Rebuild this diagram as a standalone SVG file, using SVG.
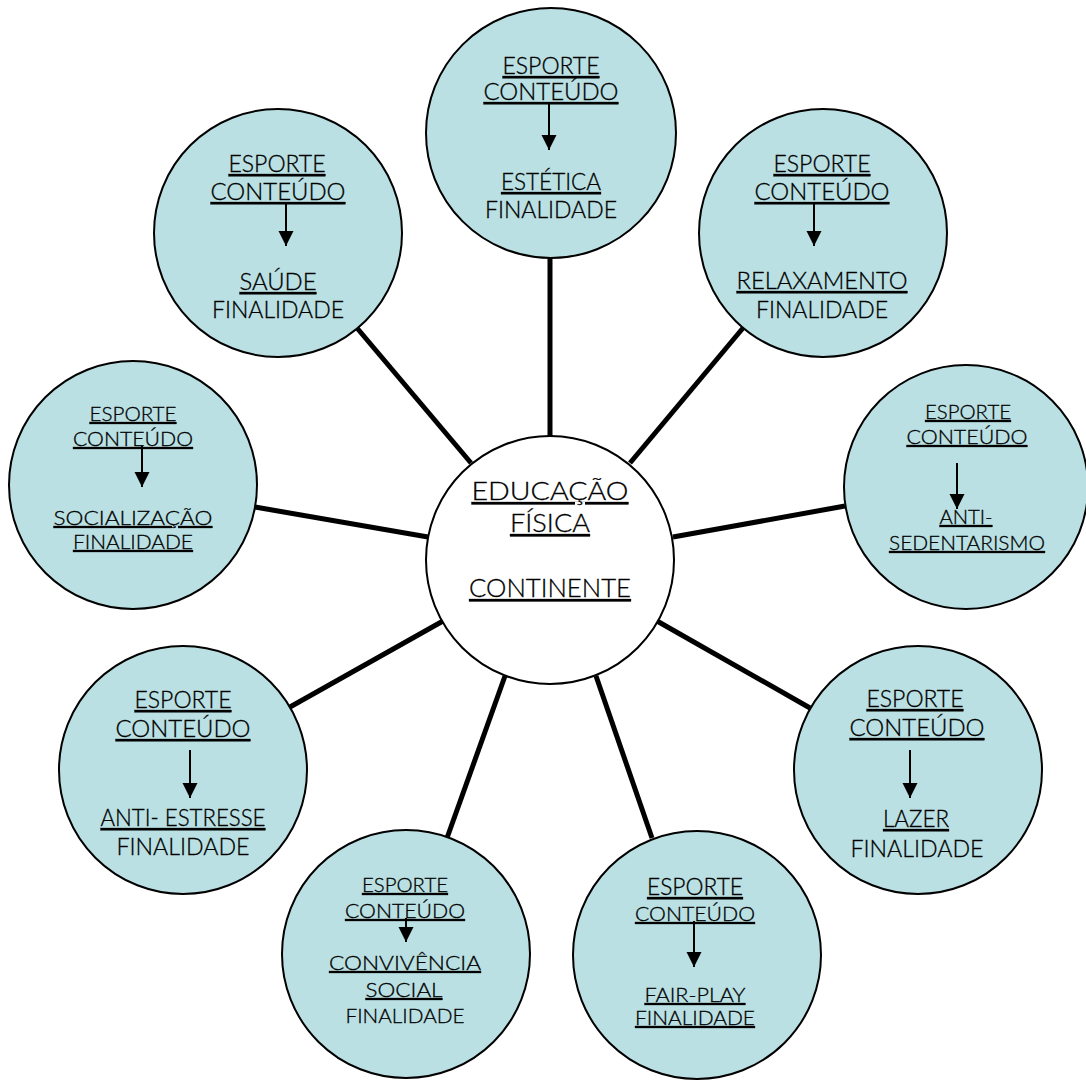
<svg xmlns="http://www.w3.org/2000/svg" width="1086" height="1080" viewBox="0 0 1086 1080">
<style>
.bg{fill:#ffffff}
.node{fill:#bae0e3;stroke:#000;stroke-width:2}
.center{fill:#ffffff;stroke:#000;stroke-width:2}
.conn{stroke:#000;stroke-width:5;stroke-linecap:butt;fill:none}
.arr{stroke:#000;stroke-width:2;fill:none}
text{font-family:Lato,"Liberation Sans",sans-serif;font-weight:300;fill:#000;stroke:#000;stroke-width:0.3;text-anchor:middle}
.L{font-size:23px}
.S{font-size:20px}
.C{font-size:25px}
.u{text-decoration:underline}
</style>
<defs>
<marker id="ah" markerUnits="userSpaceOnUse" markerWidth="16" markerHeight="16" refX="15" refY="8" orient="auto">
<path d="M0,0.5 L15,8 L0,15.5 z" fill="#000"/>
</marker>
</defs>
<rect class="bg" x="0" y="0" width="1086" height="1080"/>
<g id="connectors">
<line class="conn" x1="550" y1="256" x2="550" y2="437"/>
<line class="conn" x1="357" y1="328" x2="471" y2="463"/>
<line class="conn" x1="743" y1="328" x2="630" y2="463"/>
<line class="conn" x1="255" y1="507" x2="428" y2="537"/>
<line class="conn" x1="845" y1="506" x2="673" y2="537"/>
<line class="conn" x1="810" y1="708" x2="657" y2="621"/>
<line class="conn" x1="652" y1="838" x2="596" y2="676"/>
<line class="conn" x1="447" y1="838" x2="505" y2="676"/>
<line class="conn" x1="290" y1="707" x2="443" y2="621"/>
</g>
<g id="node-center">
<circle class="center" cx="550" cy="560" r="124"/>
<text class="C u" x="550" y="500" textLength="157" lengthAdjust="spacingAndGlyphs">EDUCAÇÃO</text>
<text class="C u" x="550" y="532" textLength="80" lengthAdjust="spacingAndGlyphs">FÍSICA</text>
<text class="C u" x="550" y="597" textLength="162" lengthAdjust="spacingAndGlyphs">CONTINENTE</text>
</g>
<g id="node-estetica">
<circle class="node" cx="551" cy="133" r="125"/>
<text class="L u" x="551" y="74" textLength="97" lengthAdjust="spacingAndGlyphs">ESPORTE</text>
<text class="L u" x="551" y="100" textLength="135" lengthAdjust="spacingAndGlyphs">CONTEÚDO</text>
<line class="arr" x1="549" y1="103" x2="549" y2="150" marker-end="url(#ah)"/>
<text class="L u" x="551" y="190" textLength="100" lengthAdjust="spacingAndGlyphs">ESTÉTICA</text>
<text class="L" x="551" y="218" textLength="132" lengthAdjust="spacingAndGlyphs">FINALIDADE</text>
</g>
<g id="node-saude">
<circle class="node" cx="278" cy="233" r="124"/>
<text class="L u" x="277" y="172" textLength="97" lengthAdjust="spacingAndGlyphs">ESPORTE</text>
<text class="L u" x="278" y="200" textLength="135" lengthAdjust="spacingAndGlyphs">CONTEÚDO</text>
<line class="arr" x1="286" y1="203" x2="286" y2="246" marker-end="url(#ah)"/>
<text class="L u" x="278" y="290" textLength="77" lengthAdjust="spacingAndGlyphs">SAÚDE</text>
<text class="L" x="278" y="318" textLength="132" lengthAdjust="spacingAndGlyphs">FINALIDADE</text>
</g>
<g id="node-relaxamento">
<circle class="node" cx="823" cy="233" r="124"/>
<text class="L u" x="822" y="172" textLength="97" lengthAdjust="spacingAndGlyphs">ESPORTE</text>
<text class="L u" x="822" y="200" textLength="135" lengthAdjust="spacingAndGlyphs">CONTEÚDO</text>
<line class="arr" x1="814" y1="203" x2="814" y2="246" marker-end="url(#ah)"/>
<text class="L u" x="822" y="289" textLength="171" lengthAdjust="spacingAndGlyphs">RELAXAMENTO</text>
<text class="L" x="822" y="318" textLength="132" lengthAdjust="spacingAndGlyphs">FINALIDADE</text>
</g>
<g id="node-socializacao">
<circle class="node" cx="133" cy="485" r="124"/>
<text class="S u" x="133" y="421" textLength="87" lengthAdjust="spacingAndGlyphs">ESPORTE</text>
<text class="S u" x="133" y="446" textLength="120" lengthAdjust="spacingAndGlyphs">CONTEÚDO</text>
<line class="arr" x1="142" y1="446" x2="142" y2="487" marker-end="url(#ah)"/>
<text class="S u" x="133" y="525" textLength="159" lengthAdjust="spacingAndGlyphs">SOCIALIZAÇÃO</text>
<text class="S u" x="133" y="549" textLength="120" lengthAdjust="spacingAndGlyphs">FINALIDADE</text>
</g>
<g id="node-antisedentarismo">
<circle class="node" cx="966" cy="487" r="122"/>
<text class="S u" x="968" y="419" textLength="86" lengthAdjust="spacingAndGlyphs">ESPORTE</text>
<text class="S u" x="967" y="444" textLength="121" lengthAdjust="spacingAndGlyphs">CONTEÚDO</text>
<line class="arr" x1="957" y1="463" x2="957" y2="509" marker-end="url(#ah)"/>
<text class="S u" x="966" y="524" textLength="53" lengthAdjust="spacingAndGlyphs">ANTI-</text>
<text class="S u" x="967" y="550" textLength="156" lengthAdjust="spacingAndGlyphs">SEDENTARISMO</text>
</g>
<g id="node-lazer">
<circle class="node" cx="918" cy="770" r="124"/>
<text class="L u" x="915" y="707" textLength="97" lengthAdjust="spacingAndGlyphs">ESPORTE</text>
<text class="L u" x="917" y="736" textLength="135" lengthAdjust="spacingAndGlyphs">CONTEÚDO</text>
<line class="arr" x1="910" y1="750" x2="910" y2="798" marker-end="url(#ah)"/>
<text class="L u" x="916" y="827" textLength="66" lengthAdjust="spacingAndGlyphs">LAZER</text>
<text class="L" x="917" y="857" textLength="133" lengthAdjust="spacingAndGlyphs">FINALIDADE</text>
</g>
<g id="node-fairplay">
<circle class="node" cx="697" cy="955" r="124"/>
<text class="L u" x="695" y="895" textLength="96" lengthAdjust="spacingAndGlyphs">ESPORTE</text>
<text class="S u" x="695" y="921" textLength="120" lengthAdjust="spacingAndGlyphs">CONTEÚDO</text>
<line class="arr" x1="694" y1="921" x2="694" y2="967" marker-end="url(#ah)"/>
<text class="S u" x="695" y="1002" textLength="101" lengthAdjust="spacingAndGlyphs">FAIR-PLAY</text>
<text class="S u" x="695" y="1025" textLength="120" lengthAdjust="spacingAndGlyphs">FINALIDADE</text>
</g>
<g id="node-convivencia">
<circle class="node" cx="406" cy="954" r="124"/>
<text class="S u" x="405" y="892" textLength="86" lengthAdjust="spacingAndGlyphs">ESPORTE</text>
<text class="S u" x="405" y="918" textLength="120" lengthAdjust="spacingAndGlyphs">CONTEÚDO</text>
<line class="arr" x1="406" y1="918" x2="406" y2="942" marker-end="url(#ah)"/>
<text class="S u" x="405" y="970" textLength="152" lengthAdjust="spacingAndGlyphs">CONVIVÊNCIA</text>
<text class="S u" x="404" y="997" textLength="77" lengthAdjust="spacingAndGlyphs">SOCIAL</text>
<text class="S" x="405" y="1023" textLength="119" lengthAdjust="spacingAndGlyphs">FINALIDADE</text>
</g>
<g id="node-antiestresse">
<circle class="node" cx="183" cy="770" r="124"/>
<text class="L u" x="183" y="708" textLength="97" lengthAdjust="spacingAndGlyphs">ESPORTE</text>
<text class="L u" x="183" y="737" textLength="135" lengthAdjust="spacingAndGlyphs">CONTEÚDO</text>
<line class="arr" x1="190" y1="750" x2="190" y2="798" marker-end="url(#ah)"/>
<text class="L u" x="183" y="826" textLength="165" lengthAdjust="spacingAndGlyphs">ANTI- ESTRESSE</text>
<text class="L" x="183" y="855" textLength="133" lengthAdjust="spacingAndGlyphs">FINALIDADE</text>
</g>
</svg>
